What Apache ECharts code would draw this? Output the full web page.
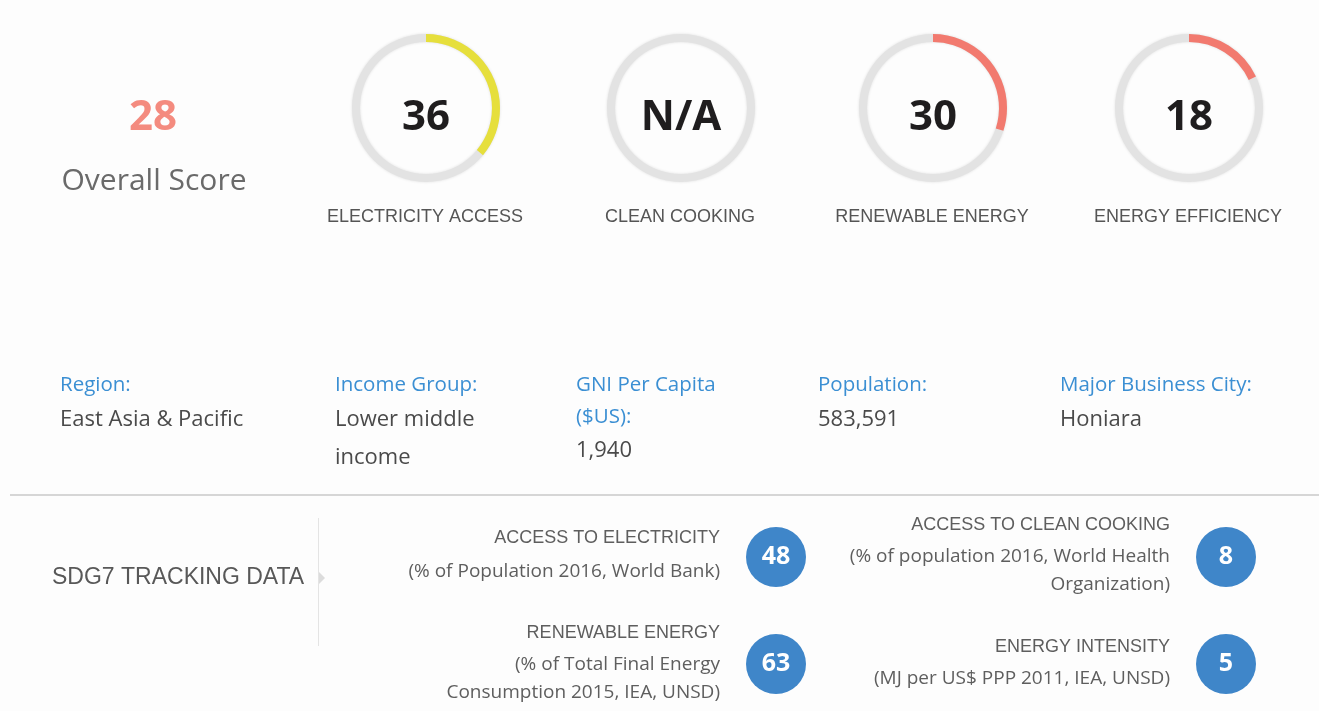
<!DOCTYPE html>
<html>
<head>
<meta charset="utf-8">
<style>
html,body{margin:0;padding:0;background:#fff;}
#chart{width:1319px;height:711px;}
</style>
<script src="https://cdn.jsdelivr.net/npm/echarts@6/dist/echarts.min.js"></script>
</head>
<body>
<div id="chart"></div>
<script>
// ---- data ----
const overallScore = 28;
const overallLabel = 'Overall Score';
const gaugeCategories = ['ELECTRICITY ACCESS', 'CLEAN COOKING', 'RENEWABLE ENERGY', 'ENERGY EFFICIENCY'];
const gaugeScores = [36, null, 30, 18];

const infoLabels = ['Region:', 'Income Group:', 'GNI Per Capita\n($US):', 'Population:', 'Major Business City:'];
const infoValues = ['East Asia & Pacific', 'Lower middle\nincome', '1,940', '583,591', 'Honiara'];

const trackingTitle = 'SDG7 TRACKING DATA';
const trackingNames = ['ACCESS TO ELECTRICITY', 'ACCESS TO CLEAN COOKING', 'RENEWABLE ENERGY', 'ENERGY INTENSITY'];
const trackingNotes = [
  '(% of Population 2016, World Bank)',
  '(% of population 2016, World Health\nOrganization)',
  '(% of Total Final Energy\nConsumption 2015, IEA, UNSD)',
  '(MJ per US$ PPP 2011, IEA, UNSD)'
];
const trackingValues = [48, 8, 63, 5];

// ---- layout / style ----
const gaugeCenters = [426, 681, 933, 1189];
const gaugeCY = 108;
const gaugeColors = ['#e6df3c', '#e6df3c', '#f27a6f', '#f27a6f'];
const infoX = [60, 335, 576, 818, 1060];
const trackPos = [
  {tx: 720, cx: 776, cy: 557, headY: 538, noteY: 572},
  {tx: 1170, cx: 1226, cy: 557, headY: 525, noteY: 557},
  {tx: 720, cx: 776, cy: 664, headY: 633, noteY: 665},
  {tx: 1170, cx: 1226, cy: 664, headY: 647, noteY: 679}
];
const numFont = '"Open Sans", "DejaVu Sans", sans-serif';
const roundFont = '"Open Sans", "Noto Sans", sans-serif';
const capsFont = '"Liberation Sans", Arial, sans-serif';

const chart = echarts.init(document.getElementById('chart'));

const series = [];
gaugeCategories.forEach((name, i) => {
  const v = gaugeScores[i];
  series.push({
    type: 'gauge',
    center: [gaugeCenters[i], gaugeCY],
    radius: 74,
    startAngle: 90,
    endAngle: -270,
    min: 0,
    max: 100,
    silent: true,
    axisLine: {lineStyle: {width: 8, color: [[1, '#e3e3e3']], shadowBlur: 3, shadowColor: 'rgba(0,0,0,0.12)'}},
    progress: {show: v != null, width: 8, itemStyle: {color: gaugeColors[i]}},
    pointer: {show: false},
    axisTick: {show: false},
    splitLine: {show: false},
    axisLabel: {show: false},
    anchor: {show: false},
    title: {show: false},
    detail: {
      offsetCenter: [0, 10],
      fontFamily: numFont,
      fontWeight: 'bold',
      fontSize: 42,
      color: '#1f1d1e',
      formatter: () => (v == null ? 'N/A' : String(v))
    },
    data: [{value: v == null ? 0 : v, name: name}]
  });
});

trackingValues.forEach((v, i) => {
  const p = trackPos[i];
  series.push({
    type: 'pie',
    center: [p.cx, p.cy],
    radius: [0, 30],
    silent: true,
    itemStyle: {color: '#3f86c9'},
    label: {
      show: true,
      position: 'center',
      formatter: '{c}',
      color: '#fff',
      fontFamily: numFont,
      fontWeight: 'bold',
      fontSize: 25
    },
    labelLine: {show: false},
    data: [{value: v, name: trackingNames[i]}]
  });
});

const graphic = [];
// overall score
graphic.push({type: 'text', x: 153, y: 118, style: {text: String(overallScore), textAlign: 'center', textVerticalAlign: 'middle', fill: '#f48b7f', font: 'bold 42px ' + numFont}});
graphic.push({type: 'text', x: 154, y: 181, style: {text: overallLabel, textAlign: 'center', textVerticalAlign: 'middle', fill: '#6a6a6a', font: '30px ' + roundFont}});
// gauge labels
gaugeCategories.forEach((name, i) => {
  graphic.push({type: 'text', x: gaugeCenters[i] - 1, y: 217, style: {text: name, textAlign: 'center', textVerticalAlign: 'middle', fill: '#555', font: '18px ' + capsFont}});
});
// info row
infoLabels.forEach((t, i) => {
  graphic.push({type: 'text', x: infoX[i], y: 369, style: {text: t, textAlign: 'left', textVerticalAlign: 'top', fill: '#3b8fd3', font: '20.5px ' + roundFont, lineHeight: 32}});
});
infoValues.forEach((t, i) => {
  const y = i === 2 ? 432 : 401;
  graphic.push({type: 'text', x: infoX[i], y: y, style: {text: t, textAlign: 'left', textVerticalAlign: 'top', fill: '#4a4a4a', font: '22px ' + roundFont, lineHeight: 38}});
});
// separator
graphic.push({type: 'rect', shape: {x: 10, y: 494, width: 1309, height: 2}, style: {fill: '#d6d6d6'}});
// tracking title
graphic.push({type: 'text', x: 52, y: 578, style: {text: trackingTitle, textAlign: 'left', textVerticalAlign: 'middle', fill: '#585858', font: '23px ' + capsFont}});
graphic.push({type: 'rect', shape: {x: 318, y: 518, width: 1, height: 128}, style: {fill: '#e4e4e4'}});
graphic.push({type: 'polygon', shape: {points: [[319, 572], [325, 578], [319, 584]]}, style: {fill: '#dcdcdc'}});
// tracking texts
trackingNames.forEach((t, i) => {
  const p = trackPos[i];
  graphic.push({type: 'text', x: p.tx, y: p.headY, style: {text: t, textAlign: 'right', textVerticalAlign: 'middle', fill: '#5e5e5e', font: '18px ' + capsFont}});
  graphic.push({type: 'text', x: p.tx, y: p.noteY - 14, style: {text: trackingNotes[i], textAlign: 'right', textVerticalAlign: 'top', fill: '#5e5e5e', font: '19px ' + roundFont, lineHeight: 28}});
});

chart.setOption({
  backgroundColor: '#fdfdfd',
  animation: false,
  series: series,
  graphic: graphic
});
</script>
</body>
</html>
